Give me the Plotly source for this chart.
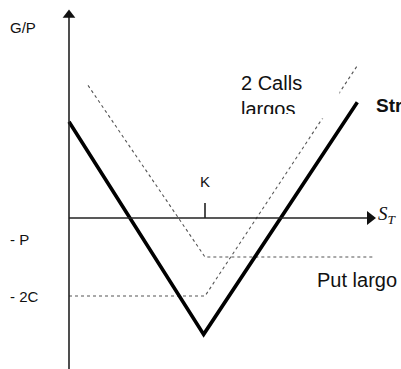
import plotly.graph_objects as go

# Schematic payoff data (x: S_T, K = 10; y: G/P)
K = 10
put_x = [1.4, 10, 22.5]
put_y = [10.2, -3, -3]
calls_x = [0, 10, 21.25]
calls_y = [-6, -6, 11.8]
strad_x = [0, 9.9, 21.2]
strad_y = [7.4, -8.95, 8.9]

W, H = 401, 369
X0, Y0 = 69, 218      # pixel of origin
SX, SY = 13.6, 13.0   # pixels per unit

def X(px):
    return (px - X0) / SX

def Y(py):
    return (Y0 - py) / SY

fig = go.Figure()

dot = dict(color="#555555", width=1.1, dash="dot")
fig.add_trace(go.Scatter(x=put_x, y=put_y, mode="lines", line=dot, hoverinfo="skip"))
fig.add_trace(go.Scatter(x=calls_x, y=calls_y, mode="lines", line=dot, hoverinfo="skip"))
fig.add_trace(go.Scatter(x=strad_x, y=strad_y, mode="lines",
                         line=dict(color="black", width=3.6), hoverinfo="skip"))

# axes
ax_line = dict(color="#222222", width=1.6)
fig.add_trace(go.Scatter(x=[0, X(368)], y=[0, 0], mode="lines", line=ax_line, hoverinfo="skip"))
fig.add_trace(go.Scatter(x=[0, 0], y=[Y(380), Y(16)], mode="lines", line=ax_line, hoverinfo="skip"))
# K tick
fig.add_trace(go.Scatter(x=[K, K], y=[0, Y(203)], mode="lines", line=ax_line, hoverinfo="skip"))
# arrowheads
fig.add_trace(go.Scatter(x=[X(370)], y=[0], mode="markers",
                         marker=dict(symbol="triangle-right", size=12, color="#111111"),
                         hoverinfo="skip"))
fig.add_trace(go.Scatter(x=[0], y=[Y(15)], mode="markers",
                         marker=dict(symbol="triangle-up", size=11, color="#111111"),
                         hoverinfo="skip"))

ann = []
font = "Liberation Sans, Arial, sans-serif"
def label(text, px, py, size, xanchor="left", **kw):
    ann.append(dict(x=X(px), y=Y(py), xref="x", yref="y", text=text, showarrow=False,
                    xanchor=xanchor, yanchor="middle",
                    font=dict(family=font, size=size, color="#111111"), **kw))

label("G/P", 8, 27, 15)
label("- P", 8, 239, 15)
label("- 2C", 8, 296, 15)
label("K", 205, 181, 15, xanchor="center")
label("Put largo", 315, 280, 20)
label("<b>Straddle</b>", 374, 105, 19)
ann.append(dict(x=X(236), y=Y(67), xref="x", yref="y", text="2 Calls<br>largos",
                showarrow=False, xanchor="left", yanchor="top", align="left",
                height=42, width=94, bgcolor="white", valign="top", borderpad=4,
                font=dict(family=font, size=20, color="#111111")))
ann.append(dict(x=X(376), y=Y(215), xref="x", yref="y",
                text="<i>S<sub>T</sub></i>", showarrow=False, xanchor="left", yanchor="middle",
                font=dict(family="Liberation Serif, Times New Roman, serif", size=19,
                          color="#111111")))

fig.update_layout(
    width=W, height=H, margin=dict(l=0, r=0, t=0, b=0),
    paper_bgcolor="white", plot_bgcolor="white", showlegend=False,
    xaxis=dict(range=[X(0), X(W)], visible=False, fixedrange=True),
    yaxis=dict(range=[Y(H), Y(0)], visible=False, fixedrange=True),
    annotations=ann,
)

fig.write_html(
    "out.html",
    config={"displayModeBar": False, "staticPlot": True},
    post_script="document.body.style.margin='0';document.body.style.overflow='hidden';",
)
